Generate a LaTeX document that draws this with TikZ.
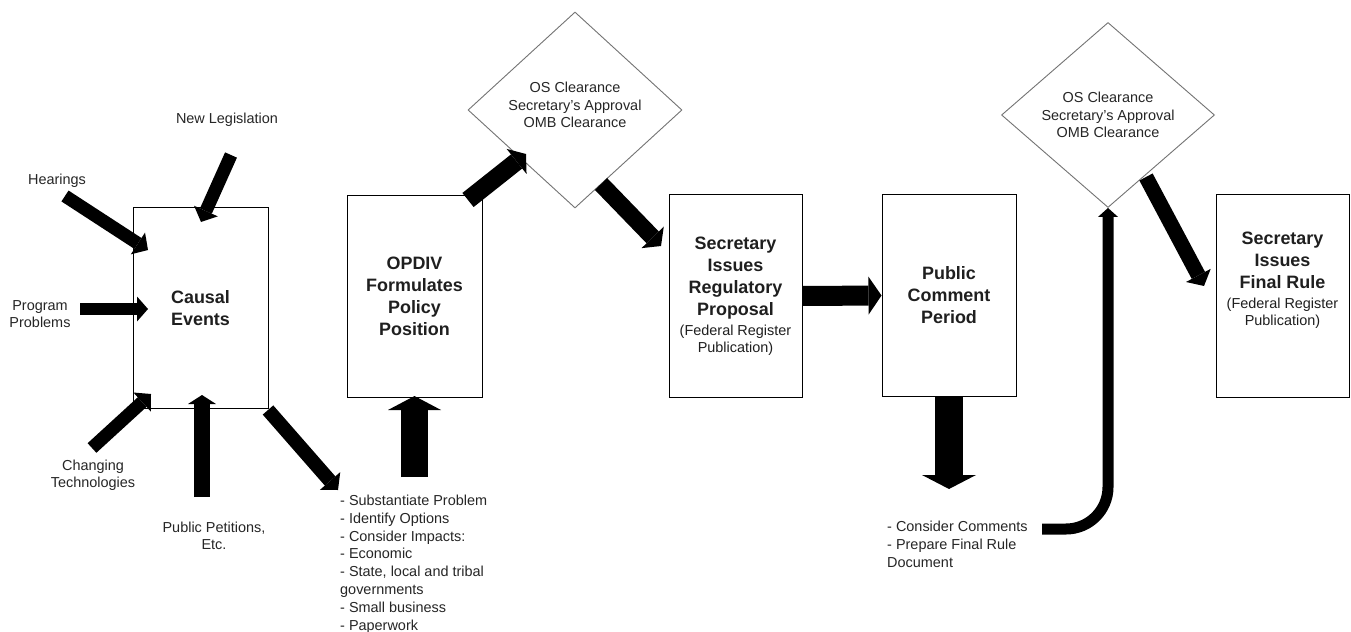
\documentclass[tikz,border=0pt]{standalone}
\usepackage{fontspec}
\setmainfont{Liberation Sans}
\usetikzlibrary{arrows.meta,shapes.geometric}
\newcommand\smtx{\fontsize{14.5}{17.5}\mdseries\selectfont}
\begin{document}
\begin{tikzpicture}[x=1bp,y=-1bp,
  txt/.style={font=\fontsize{14.5}{17.5}\selectfont, text=black!85, inner sep=0pt, align=center},
  listtxt/.style={font=\fontsize{14.5}{18}\selectfont, text=black!85, inner sep=0pt, align=left, anchor=north west},
  boxnode/.style={draw=black, line width=1bp, inner sep=0pt, align=center,
     font=\bfseries\fontsize{18}{22}\selectfont, text=black!88},
  dia/.style={diamond, draw=black!55, line width=0.9bp, inner sep=0pt, aspect=1.1,
     font=\fontsize{14.5}{17.5}\selectfont, text=black!85, align=center},
  barrow/.style n args={3}{draw=black, line width=#1bp,
     -{Triangle[width=#2bp, length=#3bp, line width=0pt]}}
]
\useasboundingbox[fill=white] (0,0) rectangle (1351,632);

% boxes
\node[boxnode, minimum width=135bp, minimum height=200bp] (causal) at (200.5,308) {Causal\\Events};
\node[boxnode, minimum width=135bp, minimum height=201bp] (opdiv) at (414.5,296.5) {OPDIV\\Formulates\\Policy\\Position};
\node[boxnode, minimum width=133bp, minimum height=202bp] (reg) at (735.5,296)
  {Secretary\\Issues\\Regulatory\\Proposal\\[-2bp]{\smtx (Federal Register}\\[-5bp]{\smtx Publication)}};
\node[boxnode, minimum width=134bp, minimum height=201bp] (pub) at (949,295.5) {Public\\Comment\\Period};
\node[boxnode, minimum width=133bp, minimum height=202bp] (final) at (1282.5,296) {};
\node[boxnode, draw=none] (finaltxt) at (1282.5,280)
  {Secretary\\Issues\\Final Rule\\[-2bp]{\smtx (Federal Register}\\[-5bp]{\smtx Publication)}};

% diamonds
\node[dia, minimum width=214bp, minimum height=196bp] (d1) at (575,110) {};
\node[txt] (d1txt) at (575,105) {OS Clearance\\Secretary's Approval\\OMB Clearance};
\node[dia, minimum width=213bp, minimum height=185bp] (d2) at (1108,115)
  {OS Clearance\\Secretary's Approval\\OMB Clearance};

% labels
\node[txt] (newleg) at (227,120) {New Legislation};
\node[txt] (hear) at (57,181) {Hearings};
\node[txt] (prog) at (40,314) {Program\\Problems};
\node[txt] (chang) at (93,475) {Changing\\Technologies};
\node[txt] (petit) at (214,536) {Public Petitions,\\Etc.};
\node[listtxt] (list) at (340,494.5) {- Substantiate Problem\\- Identify Options\\- Consider Impacts:\\- Economic\\- State, local and tribal\\governments\\- Small business\\- Paperwork};
\node[listtxt] (cons) at (887,520.5) {- Consider Comments\\- Prepare Final Rule\\Document};

% arrow end points
\coordinate (hearA) at (65,196);   \coordinate (hearB) at (148,250);
\coordinate (legA) at (231,155);   \coordinate (legB) at (201,222);
\coordinate (progA) at (80,309);   \coordinate (progB) at (148,309);
\coordinate (chgA) at (92,448);    \coordinate (chgB) at (151,394);
\coordinate (petA) at (202,497);   \coordinate (petB) at (202,395);
\coordinate (ceA) at (268,410);    \coordinate (ceB) at (338,490);
\coordinate (opA) at (414.5,477);  \coordinate (opB) at (414.5,396);
\coordinate (odA) at (468,200);    \coordinate (odB) at (526,154);
\coordinate (drA) at (601,184);    \coordinate (drB) at (661,246);
\coordinate (pdA) at (949,396.5);  \coordinate (pdB) at (949,489);
\coordinate (dfA) at (1146,177);   \coordinate (dfB) at (1204,286);
\coordinate (cuA) at (1042,529);

% arrows
\draw[barrow={13}{26}{12}] (hearA) -- (hearB);
\draw[barrow={13}{26}{12}] (legA) -- (legB);
\draw[barrow={12}{25}{11}] (progA) -- (progB);
\draw[barrow={13}{26}{12}] (chgA) -- (chgB);
\draw[barrow={16}{28}{9}] (petA) -- (petB);
\draw[barrow={14}{27}{12}] (ceA) -- (ceB);
\draw[barrow={27}{53}{14}] (opA) -- (opB);
\draw[barrow={18}{32}{12}] (odA) -- (odB);
\draw[barrow={17}{31}{12}] (drA) -- (drB);
\draw[barrow={20}{38}{13}] (reg.east) -- (pub.west);
\draw[barrow={28}{54}{14}] (pdA) -- (pdB);
\draw[barrow={15}{28}{12}] (dfA) -- (dfB);
\draw[barrow={11}{20}{9}, rounded corners=42bp] (cuA) -| (d2.south);
\end{tikzpicture}
\end{document}
